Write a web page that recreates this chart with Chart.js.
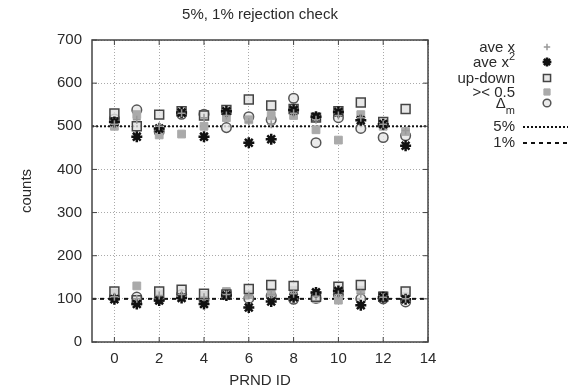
<!DOCTYPE html>
<html lang="en">
<head>
  <meta charset="UTF-8" />
  <title>5%, 1% rejection check</title>
  <script src="https://cdn.jsdelivr.net/npm/chart.js"></script>
  <style>
    body { margin: 0; background: #fff; }
    .wrap { width: 585px; height: 390px; }
  </style>
</head>
<body>
  <div class="wrap"><canvas id="chart"></canvas></div>

  <script>
    // PRND IDs and tick labels
    const ids = [0, 1, 2, 3, 4, 5, 6, 7, 8, 9, 10, 11, 12, 13];
    const xTicks = [0, 2, 4, 6, 8, 10, 12, 14];
    const yTicks = [0, 100, 200, 300, 400, 500, 600, 700];

    // 5% check (around 500 counts)
    const aveXHigh   = [505, 515, 500, 530, 520, 525, 510, 505, 530, 515, 525, 520, 505, 490];
    const aveX2High  = [510, 476, 495, 532, 476, 535, 462, 470, 538, 522, 533, 514, 505, 455];
    const upDownHigh = [530, 500, 527, 535, 525, 538, 562, 548, 540, 520, 535, 555, 510, 540];
    const halfHigh   = [500, 527, 480, 482, 500, 520, 515, 525, 525, 492, 468, 527, 500, 488];
    const deltaHigh  = [517, 538, 488, 528, 528, 497, 522, 515, 565, 462, 520, 495, 474, 478];

    // 1% check (around 100 counts)
    const aveXLow    = [105, 100, 108, 110, 104, 110, 108, 110, 112, 106, 110, 112, 104, 100];
    const aveX2Low   = [99, 88, 96, 102, 88, 108, 80, 94, 104, 115, 118, 85, 104, 99];
    const upDownLow  = [117, 97, 117, 121, 112, 110, 123, 132, 130, 105, 128, 132, 105, 117];
    const halfLow    = [113, 130, 110, 105, 108, 117, 110, 115, 120, 100, 97, 120, 108, 105];
    const deltaLow   = [104, 104, 100, 110, 98, 113, 101, 107, 99, 101, 110, 100, 100, 93];

    const level5 = 500;
    const level1 = 100;

    const pts = (hi, lo) => ids.map((x, i) => ({ x, y: hi[i] }))
      .concat(ids.map((x, i) => ({ x, y: lo[i] })));
    const flat = v => [{ x: -1, y: v }, { x: 14, y: v }];

    const font = "'Liberation Sans', Arial, sans-serif";
    const ink = '#2a2a2a';

    // frame with inward ticks, like gnuplot
    const frame = {
      id: 'frame',
      afterDatasetsDraw(chart) {
        const { ctx, chartArea: a, scales } = chart;
        ctx.save();
        ctx.strokeStyle = '#444';
        ctx.lineWidth = 1.5;
        ctx.strokeRect(a.left, a.top, a.right - a.left, a.bottom - a.top);
        ctx.lineWidth = 1;
        ctx.beginPath();
        xTicks.forEach(v => {
          const x = scales.x.getPixelForValue(v);
          ctx.moveTo(x, a.bottom); ctx.lineTo(x, a.bottom - 5);
          ctx.moveTo(x, a.top); ctx.lineTo(x, a.top + 5);
        });
        yTicks.forEach(v => {
          const y = scales.y.getPixelForValue(v);
          ctx.moveTo(a.left, y); ctx.lineTo(a.left + 5, y);
          ctx.moveTo(a.right, y); ctx.lineTo(a.right - 5, y);
        });
        ctx.stroke();
        ctx.restore();
      }
    };

    // legend + title drawn beside the plot, gnuplot style
    const sideLegend = {
      id: 'sideLegend',
      afterDraw(chart) {
        const ctx = chart.ctx;
        const area = chart.chartArea;
        ctx.save();
        ctx.fillStyle = ink;
        ctx.font = '15px ' + font;
        ctx.textAlign = 'center';
        ctx.textBaseline = 'middle';
        ctx.fillText('5%, 1% rejection check', (area.left + area.right) / 2, 15);

        ctx.textAlign = 'right';
        const tx = 515, sx = 547;
        const rows = [
          { label: 'ave x', y: 48 },
          { label: 'ave x', sup: '2', y: 63 },
          { label: 'up-down', y: 79 },
          { label: '>< 0.5', y: 93 },
          { label: '\u0394', sub: 'm', y: 104 },
          { label: '5%', y: 127 },
          { label: '1%', y: 143 }
        ];
        rows.forEach((r, i) => {
          let right = tx;
          if (r.sup || r.sub) {
            ctx.font = '11px ' + font;
            const w = ctx.measureText(r.sup || r.sub).width;
            ctx.fillText(r.sup || r.sub, tx, r.sup ? r.y - 6 : r.y + 7);
            right = tx - w;
            ctx.font = '15px ' + font;
          }
          ctx.fillText(r.label, right, r.y);
          const ds = chart.data.datasets[i];
          if (ds.showLine) {
            ctx.strokeStyle = ds.borderColor;
            ctx.lineWidth = ds.borderWidth;
            ctx.setLineDash(ds.borderDash);
            ctx.beginPath();
            ctx.moveTo(523, r.y);
            ctx.lineTo(568, r.y);
            ctx.stroke();
            ctx.setLineDash([]);
          } else {
            ctx.fillStyle = ds.backgroundColor;
            ctx.strokeStyle = ds.borderColor;
            ctx.lineWidth = ds.borderWidth;
            Chart.helpers.drawPoint(ctx, { pointStyle: ds.pointStyle, radius: ds.pointRadius * 0.8, borderWidth: ds.borderWidth }, sx, r.y - 1);
            ctx.fillStyle = ink;
          }
        });
        ctx.restore();
      }
    };

    new Chart(document.getElementById('chart'), {
      type: 'scatter',
      data: {
        datasets: [{
          label: 'ave x',
          data: pts(aveXHigh, aveXLow),
          pointStyle: 'cross',
          pointRadius: 4,
          borderColor: '#999',
          backgroundColor: '#999',
          borderWidth: 1.5
        }, {
          label: 'ave x2',
          data: pts(aveX2High, aveX2Low),
          pointStyle: 'star',
          pointRadius: 5.5,
          borderColor: '#111',
          backgroundColor: '#111',
          borderWidth: 2.5
        }, {
          label: 'up-down',
          data: pts(upDownHigh, upDownLow),
          pointStyle: 'rect',
          pointRadius: 6.3,
          borderColor: '#444',
          backgroundColor: 'rgba(225,225,225,0.8)',
          borderWidth: 1.5
        }, {
          label: '>< 0.5',
          data: pts(halfHigh, halfLow),
          pointStyle: 'rect',
          pointRadius: 5.5,
          borderColor: '#aaa',
          backgroundColor: '#aaa',
          borderWidth: 1
        }, {
          label: 'delta m',
          data: pts(deltaHigh, deltaLow),
          pointStyle: 'circle',
          pointRadius: 4.8,
          borderColor: '#555',
          backgroundColor: 'rgba(230,230,230,0.8)',
          borderWidth: 1.5
        }, {
          label: '5%',
          data: flat(level5),
          showLine: true,
          pointRadius: 0,
          borderColor: '#111',
          borderWidth: 2,
          borderDash: [2, 2]
        }, {
          label: '1%',
          data: flat(level1),
          showLine: true,
          pointRadius: 0,
          borderColor: '#111',
          borderWidth: 2,
          borderDash: [4, 4]
        }]
      },
      options: {
        responsive: true,
        maintainAspectRatio: false,
        animation: false,
        layout: { padding: { top: 40, right: 157 } },
        plugins: {
          legend: { display: false },
          tooltip: { enabled: false }
        },
        scales: {
          x: {
            type: 'linear',
            min: -1,
            max: 14,
            afterBuildTicks: s => { s.ticks = xTicks.map(v => ({ value: v })); },
            afterFit: s => { s.height = 48; },
            grid: { color: '#aaa', drawTicks: false },
            border: { display: false, dash: [1, 2] },
            ticks: { color: ink, padding: 8, font: { family: font, size: 15 } },
            title: { display: true, text: 'PRND ID', color: ink, padding: 0, font: { family: font, size: 15 } }
          },
          y: {
            min: 0,
            max: 700,
            afterBuildTicks: s => { s.ticks = yTicks.map(v => ({ value: v })); },
            afterFit: s => { s.width = 92; },
            grid: { color: '#aaa', drawTicks: false },
            border: { display: false, dash: [1, 2] },
            ticks: { color: ink, padding: 10, font: { family: font, size: 15 } },
            title: { display: true, text: 'counts', color: ink, padding: 18, font: { family: font, size: 15 } }
          }
        }
      },
      plugins: [frame, sideLegend]
    });
  </script>
</body>
</html>
